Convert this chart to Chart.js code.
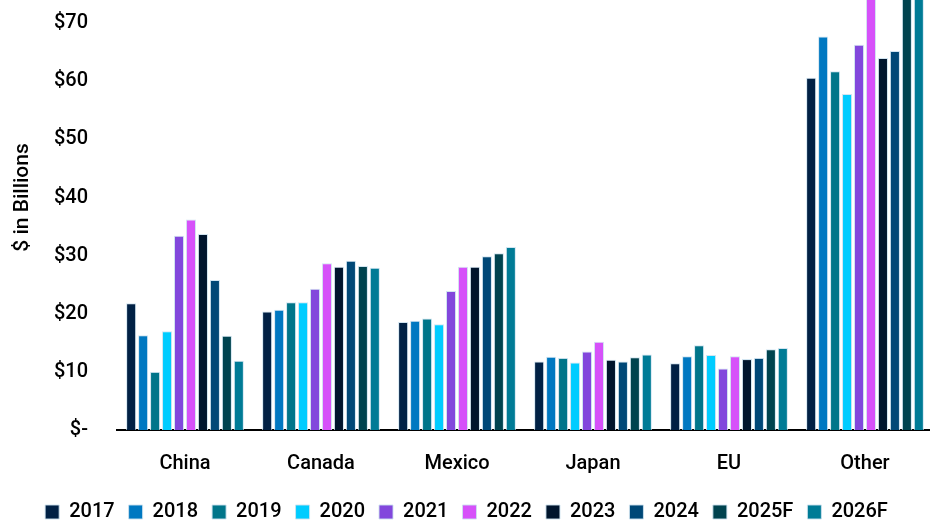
<!DOCTYPE html>
<html>
<head>
<meta charset="utf-8">
<script src="https://cdn.jsdelivr.net/npm/chart.js@4.4.1/dist/chart.umd.min.js"></script>
<style>
    html, body { margin: 0; padding: 0; background: #fff; overflow: hidden; }
    #wrap { position: relative; width: 933px; height: 608px; margin-top: -76px; }
</style>
</head>
<body>
<div id="wrap"><canvas id="tradeChart"></canvas></div>
<script>
// --- Data ---
const regions = ['China', 'Canada', 'Mexico', 'Japan', 'EU', 'Other'];
const years = ['2017', '2018', '2019', '2020', '2021', '2022', '2023', '2024', '2025F', '2026F'];
const yearColors = ['#012145', '#0078C1', '#00758A', '#00CCFF', '#8247DC',
                    '#D651F9', '#00152D', '#004877', '#00434F', '#007B96'];

// $ billions per region, one array per year
const v2017 = [21.8, 20.4, 18.6, 11.8, 11.5, 60.6];
const v2018 = [16.3, 20.7, 18.8, 12.6, 12.7, 67.7];
const v2019 = [10.0, 22.0, 19.2, 12.4, 14.6, 61.7];
const v2020 = [17.0, 22.0, 18.2, 11.6, 12.9, 57.8];
const v2021 = [33.4, 24.3, 23.9, 13.5, 10.6, 66.3];
const v2022 = [36.2, 28.7, 28.1, 15.2, 12.7, 78.5];
const v2023 = [33.7, 28.1, 28.1, 12.1, 12.2, 64.0];
const v2024 = [25.8, 29.1, 29.9, 11.8, 12.4, 65.2];
const v2025F = [16.2, 28.2, 30.4, 12.5, 13.9, 76.0];
const v2026F = [11.9, 27.9, 31.5, 13.0, 14.1, 78.0];

const seriesValues = [v2017, v2018, v2019, v2020, v2021, v2022, v2023, v2024, v2025F, v2026F];

const yTicks = [0, 10, 20, 30, 40, 50, 60, 70, 80];

const FONT = 'Roboto, "Liberation Sans", sans-serif';

// --- Chart ---
const ctx = document.getElementById('tradeChart').getContext('2d');

const datasets = years.map((yr, i) => ({
    label: yr,
    data: seriesValues[i],
    backgroundColor: yearColors[i],
    borderColor: 'rgba(205, 226, 240, 0.9)',
    borderWidth: 1,
    categoryPercentage: 0.88,
    barPercentage: 0.84
}));

new Chart(ctx, {
    type: 'bar',
    data: { labels: regions, datasets: datasets },
    options: {
        responsive: true,
        maintainAspectRatio: false,
        animation: false,
        layout: { autoPadding: false, padding: 0 },
        plugins: {
            legend: {
                position: 'bottom',
                labels: {
                    boxWidth: 14,
                    boxHeight: 14,
                    padding: 14,
                    color: '#000',
                    font: { family: FONT, size: 20, weight: '500' }
                }
            },
            tooltip: { enabled: false }
        },
        scales: {
            x: {
                grid: { display: false, drawTicks: false },
                border: { display: true, color: '#000', width: 2 },
                ticks: {
                    color: '#000',
                    padding: 22,
                    font: { family: FONT, size: 20, weight: '500' }
                },
                afterFit: (scale) => { scale.height = 58; }
            },
            y: {
                min: 0,
                max: 80,
                grid: { display: false, drawTicks: false },
                border: { display: false },
                afterBuildTicks: (scale) => {
                    scale.ticks = yTicks.map(v => ({ value: v }));
                },
                afterFit: (scale) => { scale.width = 117; },
                ticks: {
                    color: '#000',
                    padding: 29,
                    font: { family: FONT, size: 20, weight: '500' },
                    callback: (v) => v === 0 ? '$-' : '$' + v
                },
                title: {
                    display: true,
                    text: '$ in Billions',
                    color: '#000',
                    padding: { top: 10, bottom: 0 },
                    font: { family: FONT, size: 21, weight: '500' }
                }
            }
        }
    }
});
</script>
</body>
</html>
